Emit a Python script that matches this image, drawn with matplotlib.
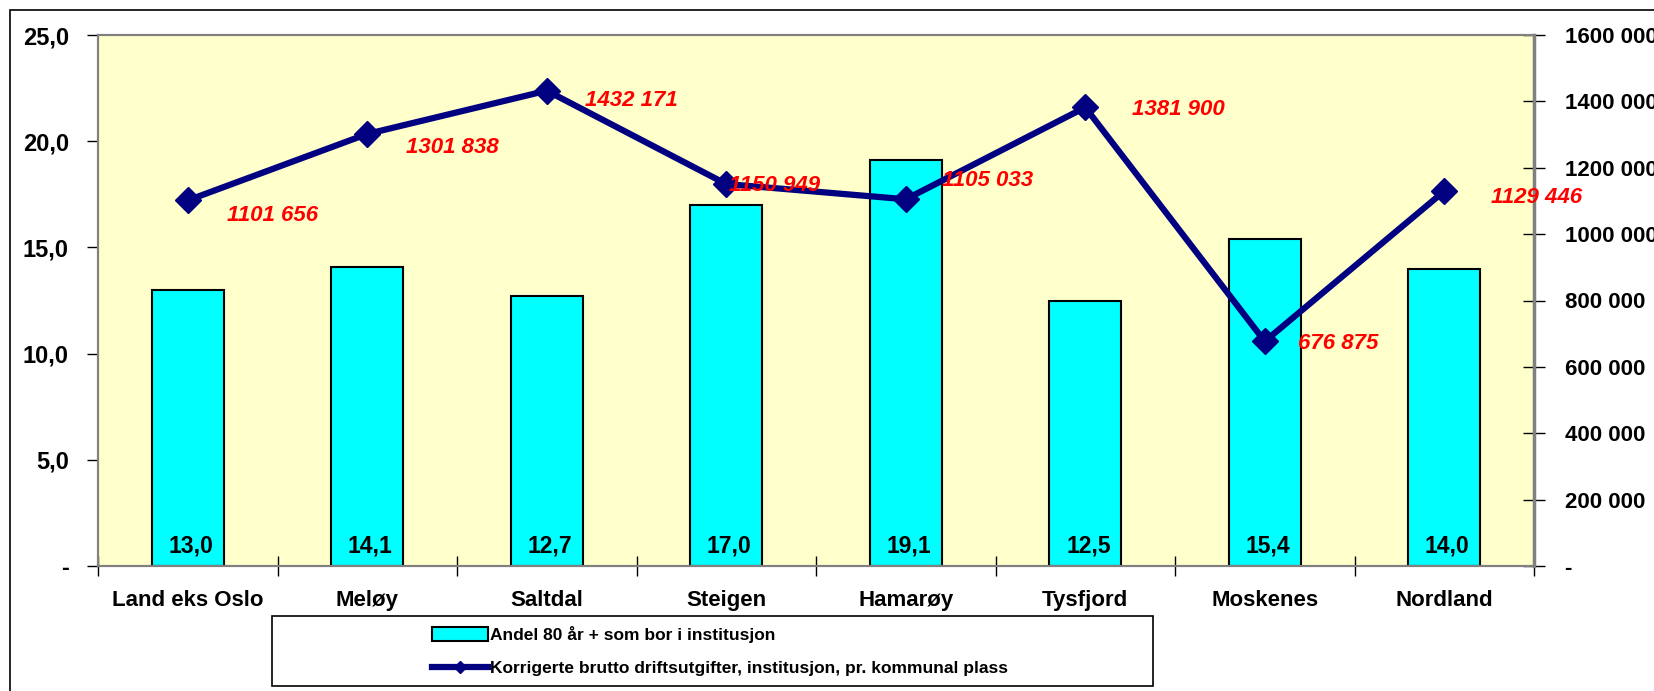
import matplotlib
matplotlib.use("Agg")
import matplotlib.pyplot as plt
from matplotlib.patches import Rectangle, Patch
from matplotlib.lines import Line2D
from matplotlib.ticker import FuncFormatter, FixedLocator
import numpy as np

plt.rcParams['font.family'] = ['Liberation Sans', 'DejaVu Sans']
plt.rcParams['font.weight'] = 'bold'

categories = ["Land eks Oslo", "Meløy", "Saltdal", "Steigen", "Hamarøy", "Tysfjord", "Moskenes", "Nordland"]
andel_80 = [13.0, 14.1, 12.7, 17.0, 19.1, 12.5, 15.4, 14.0]
utgifter = [1101656, 1301838, 1432171, 1150949, 1105033, 1381900, 676875, 1129446]
bar_name = "Andel 80 år + som bor i institusjon"
line_name = "Korrigerte brutto driftsutgifter, institusjon, pr. kommunal plass"

# label offsets (pixels) for the red line labels
label_offsets = [(39, -15), (39, -14), (38, -10), (3, -1), (36, 19), (47, -2), (33, -2), (47, -6)]

W, H = 1654, 691
fig = plt.figure(figsize=(W / 100, H / 100), dpi=100)
fig.patches.append(Rectangle((10 / W, -0.1), 1.2, (H - 10) / H + 0.1, transform=fig.transFigure,
                             fill=False, edgecolor='black', linewidth=1.2))

ax = fig.add_axes([98 / W, (H - 566) / H, (1534 - 98) / W, (566 - 35) / H])
ax.set_facecolor('#FFFFCC')
x = np.arange(len(categories))
ax.bar(x, andel_80, width=0.4, color='#00FFFF', edgecolor='black', linewidth=1.5, zorder=2)
ax.set_xlim(-0.5, len(categories) - 0.5)
ax.set_ylim(0, 25)
ax.yaxis.set_major_locator(FixedLocator([0, 5, 10, 15, 20, 25]))
ax.yaxis.set_major_formatter(FuncFormatter(lambda v, p: "-" if v == 0 else f"{v:.1f}".replace(".", ",")))
ax.tick_params(axis='y', direction='out', length=8, width=1, pad=13, labelsize=17)
ax.set_xticks(x)
ax.set_xticklabels(categories)
ax.tick_params(axis='x', which='major', length=0, pad=17, labelsize=16)
ax.set_xticks(np.arange(len(categories) + 1) - 0.5, minor=True)
ax.tick_params(axis='x', which='minor', direction='inout', length=14, width=1)
for s in ax.spines.values():
    s.set_color('#808080')
    s.set_linewidth(1.5)

for xi, v in zip(x, andel_80):
    ax.annotate(f"{v:.1f}".replace(".", ","), (xi, 0), xytext=(3, 20), textcoords='offset pixels',
                ha='center', va='center', fontsize=16.5, fontweight='bold', zorder=4)

ax2 = ax.twinx()
ax2.set_ylim(0, 1600000)
ax2.yaxis.set_major_locator(FixedLocator(np.arange(0, 1600001, 200000)))
ax2.yaxis.set_major_formatter(FuncFormatter(
    lambda v, p: "-" if v == 0 else f"{int(v) // 1000} {int(v) % 1000:03d}"))
ax2.tick_params(axis='y', direction='inout', length=16, width=1, pad=14, labelsize=16)
for s in ax2.spines.values():
    s.set_color('#808080')
    s.set_linewidth(1.5)
ax2.spines['right'].set_linewidth(2.5)
ax2.plot(x, utgifter, color='#000080', linewidth=4.5, marker='D', markersize=13, zorder=3)
for xi, v, (dx, dy) in zip(x, utgifter, label_offsets):
    ax2.annotate(f"{v // 1000} {v % 1000:03d}", (xi, v), xytext=(dx, dy), textcoords='offset pixels',
                 ha='left', va='center', fontsize=16, fontweight='bold', fontstyle='italic',
                 color='#FF0000', zorder=5)

# legend frame
fig.patches.append(Rectangle((272 / W, (H - 686) / H), (1153 - 272) / W, (686 - 616) / H,
                             transform=fig.transFigure, fill=False, edgecolor='black', linewidth=1.2))
handles = [Patch(facecolor='#00FFFF', edgecolor='black', linewidth=1.5, label=bar_name),
           Line2D([], [], color='#000080', linewidth=4.5, marker='D', markersize=6, label=line_name)]
fig.legend(handles=handles, loc='center left', bbox_to_anchor=(432 / W, (H - 651) / H),
           frameon=False, handlelength=3.2, handleheight=0.9, handletextpad=0.15, labelspacing=1.0,
           borderpad=0, borderaxespad=0, prop={'weight': 'bold', 'size': 12.5})

fig.savefig("out.png", dpi=100)
